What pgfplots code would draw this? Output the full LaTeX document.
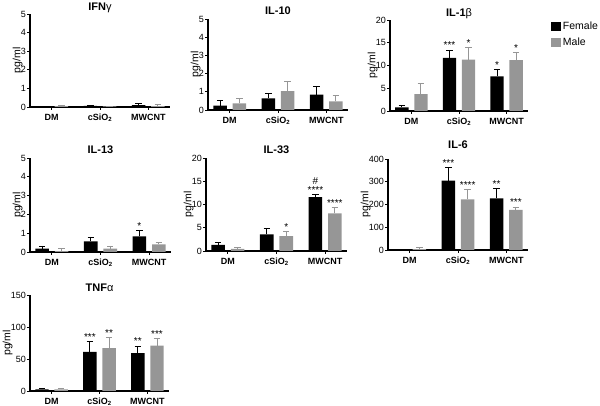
\documentclass[border=0pt]{standalone}
\usepackage{fontspec}
\setmainfont{Liberation Sans}
\usepackage{pgfplots}
\pgfplotsset{compat=1.18}
\definecolor{maleGray}{RGB}{150,150,150}
\tikzset{sig/.style={font=\fontsize{10}{11}\selectfont, anchor=south, inner sep=1pt}}
\pgfplotsset{
 panel/.style={
  scale only axis,
  axis x line*=bottom, axis y line*=left,
  xmin=-0.45, xmax=2.45, ymin=0,
  xtick={0,1,2}, xticklabels={DM,cSiO\textsubscript{2},MWCNT},
  tick align=outside, major tick length=3pt,
  every tick/.style={black, line width=0.9pt},
  axis line style={black, line width=1.1pt},
  x tick label style={font=\bfseries\fontsize{9}{10}\selectfont, inner sep=1pt, yshift=-3pt},
  y tick label style={font=\fontsize{9}{10}\selectfont, inner sep=1pt},
  /pgf/number format/assume math mode=true,
  ylabel={pg/ml},
  ylabel style={font=\fontsize{10.5}{11}\selectfont, inner sep=0pt, yshift=-3pt},
  every axis title shift=0pt,
  title style={font=\bfseries\fontsize{11}{12}\selectfont, anchor=base, at={(0.5,1)}},
  ybar, bar width=0.28, bar shift=0pt,
  minor tick num=0,
 },
 fem/.style={fill=black, draw=none,
   error bars/.cd, y dir=plus, y explicit,
   error bar style={draw=black, line width=0.9pt},
   error mark options={rotate=90, mark size=3.2pt, line width=0.9pt, draw=black}},
 mal/.style={fill=maleGray, draw=none,
   error bars/.cd, y dir=plus, y explicit,
   error bar style={draw=maleGray, line width=0.9pt},
   error mark options={rotate=90, mark size=3.2pt, line width=0.9pt, draw=maleGray}},
}
\begin{document}
\begin{tikzpicture}
\path[use as bounding box] (0,0) rectangle (600pt,406pt);

% IFN gamma
\begin{axis}[panel, at={(30pt,299pt)}, anchor=south west, width=140pt, height=93pt,
  ymax=5, ytick={0,1,2,3,4,5}, title={IFN\mdseries γ}, title style={yshift=3pt}]
\addplot[fem] coordinates {(-0.2,0.02) +- (0,0.02) (0.8,0.06) +- (0,0.03) (1.8,0.10) +- (0,0.08)};
\addplot[mal] coordinates {(0.2,0.05) +- (0,0.04) (1.2,0.03) +- (0,0.02) (2.2,0.05) +- (0,0.10)};
\end{axis}

% IL-10
\begin{axis}[panel, at={(208pt,296pt)}, anchor=south west, width=140pt, height=91pt,
  ymax=5, ytick={0,1,2,3,4,5}, title={IL-10}, title style={yshift=4pt}]
\addplot[fem] coordinates {(-0.2,0.24) +- (0,0.26) (0.8,0.64) +- (0,0.26) (1.8,0.85) +- (0,0.44)};
\addplot[mal] coordinates {(0.2,0.36) +- (0,0.27) (1.2,1.03) +- (0,0.52) (2.2,0.47) +- (0,0.31)};
\end{axis}

% IL-1 beta
\begin{axis}[panel, at={(390pt,295pt)}, anchor=south west, width=138pt, height=91pt,
  ymax=20, ytick={0,5,10,15,20}, title={IL-1\mdseries β}, title style={yshift=3pt},
  legend style={draw=none, fill=none, at={(axis description cs:1.165,1.0)}, anchor=north west,
    font=\fontsize{10.5}{12}\selectfont, row sep=3pt, inner sep=0pt, cells={anchor=west}},
  legend image code/.code={\fill[#1] (0pt,-4.5pt) rectangle (10pt,4.5pt);}]
\addplot[fem] coordinates {(-0.2,0.8) +- (0,0.5) (0.8,11.7) +- (0,1.7) (1.8,7.6) +- (0,1.5)};
\addlegendentry{Female}
\addplot[mal] coordinates {(0.2,3.7) +- (0,2.3) (1.2,11.3) +- (0,2.7) (2.2,11.2) +- (0,1.6)};
\addlegendentry{Male}
\node[sig] at (axis cs:0.8,13.4) {***};
\node[sig] at (axis cs:1.2,14.0) {*};
\node[sig] at (axis cs:1.8,9.1) {*};
\node[sig] at (axis cs:2.2,12.8) {*};
\end{axis}

% IL-13
\begin{axis}[panel, at={(30pt,154pt)}, anchor=south west, width=141pt, height=94pt,
  ymax=5, ytick={0,1,2,3,4,5}, title={IL-13}, title style={yshift=4pt}]
\addplot[fem] coordinates {(-0.2,0.18) +- (0,0.14) (0.8,0.57) +- (0,0.23) (1.8,0.83) +- (0,0.29)};
\addplot[mal] coordinates {(0.2,0.05) +- (0,0.15) (1.2,0.18) +- (0,0.14) (2.2,0.40) +- (0,0.10)};
\node[sig] at (axis cs:1.8,1.12) {*};
\end{axis}

% IL-33
\begin{axis}[panel, at={(206pt,155pt)}, anchor=south west, width=141pt, height=93pt,
  ymax=20, ytick={0,5,10,15,20}, title={IL-33}, title style={yshift=4pt}]
\addplot[fem] coordinates {(-0.2,1.3) +- (0,0.55) (0.8,3.6) +- (0,1.2) (1.8,11.6) +- (0,0.5)};
\addplot[mal] coordinates {(0.2,0.43) +- (0,0.27) (1.2,3.2) +- (0,0.9) (2.2,8.1) +- (0,1.2)};
\node[sig] at (axis cs:1.2,4.1) {*};
\node[sig] at (axis cs:1.8,12.1) {****};
\node[sig, yshift=9pt] at (axis cs:1.8,12.1) {\#};
\node[sig] at (axis cs:2.2,9.3) {****};
\end{axis}

% IL-6
\begin{axis}[panel, at={(388pt,156pt)}, anchor=south west, width=140pt, height=91pt,
  ymax=400, ytick={0,100,200,300,400}, title={IL-6}, title style={yshift=10pt}]
\addplot[fem] coordinates {(-0.2,3) +- (0,1) (0.8,305) +- (0,58) (1.8,227) +- (0,44)};
\addplot[mal] coordinates {(0.2,4) +- (0,8) (1.2,223) +- (0,41) (2.2,176) +- (0,13)};
\node[sig] at (axis cs:0.8,363) {***};
\node[sig] at (axis cs:1.2,264) {****};
\node[sig] at (axis cs:1.8,271) {**};
\node[sig] at (axis cs:2.2,189) {***};
\end{axis}

% TNF alpha
\begin{axis}[panel, at={(30pt,15pt)}, anchor=south west, width=139pt, height=96pt,
  ymax=150, ytick={0,50,100,150}, title={TNF\mdseries α}, title style={yshift=3pt}]
\addplot[fem] coordinates {(-0.2,2.6) +- (0,2) (0.8,61) +- (0,16) (1.8,59) +- (0,11)};
\addplot[mal] coordinates {(0.2,2.6) +- (0,1.6) (1.2,67) +- (0,16) (2.2,71) +- (0,11)};
\node[sig] at (axis cs:0.8,77) {***};
\node[sig] at (axis cs:1.2,83) {**};
\node[sig] at (axis cs:1.8,70) {**};
\node[sig] at (axis cs:2.2,82) {***};
\end{axis}
\end{tikzpicture}
\end{document}
